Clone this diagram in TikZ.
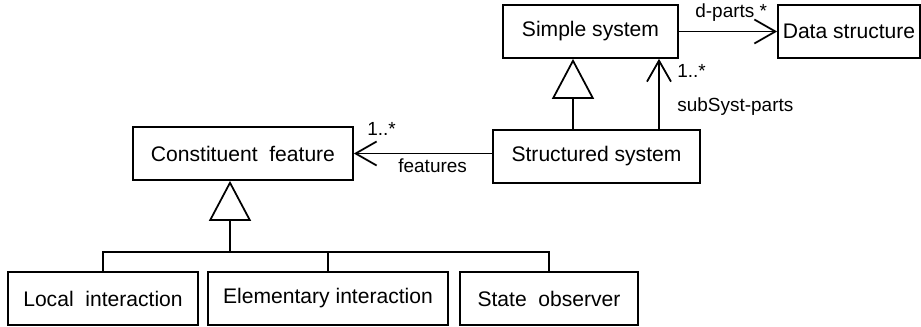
\documentclass[tikz,border=0pt]{standalone}
\usepackage{fontspec}
\setmainfont{Liberation Sans}
\usepackage{tikz}
\usetikzlibrary{arrows.meta}
\tikzstyle{cls} = [rectangle, draw=black, line width=1pt, minimum height=1.06cm, inner sep=0pt, font=\fontsize{12}{14}\selectfont]
\tikzstyle{lbl} = [inner sep=0pt, anchor=base west, font=\fontsize{10.8}{13}\selectfont]
\tikzstyle{gen} = [line width=1pt, -{Triangle[open, length=0.8cm, width=0.84cm, line width=1pt]}]
\tikzstyle{assoc} = [line width=1pt, -{Straight Barb[length=0.42cm, width=0.48cm, line width=1pt]}]

\begin{document}
\begin{tikzpicture}[x=0.02cm, y=-0.02cm]
        \useasboundingbox (0,0) rectangle (921,327);

        \node (simple) [cls, minimum width=3.5cm] at (590.5,31.5) {Simple system};
        \node (data) [cls, minimum width=2.84cm] at (849,31.5) {Data structure};
        \node (structured) [cls, minimum width=4.14cm] at (596.5,156.5) {Structured system};
        \node (constituent) [cls, minimum width=4.4cm] at (243,153.5) {Constituent\ \ feature};

        \node (local) [cls, minimum width=3.8cm] at (103,298.5) {Local\ \ interaction};
        \node (elementary) [cls, minimum width=4.8cm] at (328,298.5) {Elementary interaction};
        \node (observer) [cls, minimum width=3.56cm] at (549,298.5) {State\ \ observer};

        % associations
        \draw[assoc] (simple.east) -- (data.west);
        \draw[assoc] (structured.north -| 659,0) -- (simple.south -| 659,0);
        \draw[assoc] (structured.west |- constituent.east) -- (constituent.east);

        \node (dparts) [lbl] at (695,18) {d-parts *};
        \node (multsub) [lbl] at (677,78) {1..*};
        \node (subsyst) [lbl] at (677,112) {subSyst-parts};
        \node (multfeat) [lbl] at (367,136) {1..*};
        \node (features) [lbl] at (398,173) {features};

        % generalizations
        \draw[gen] (structured.north -| 573,0) -- (simple.south -| 573,0);

        \coordinate (bus) at (230,252);
        \draw[gen] (bus) -- (constituent.south -| bus);
        \draw[line width=1pt] (local.north) |- (observer.north |- bus) -- (observer.north);
        \draw[line width=1pt] (elementary.north) -- (elementary.north |- bus);

    \end{tikzpicture}
\end{document}
